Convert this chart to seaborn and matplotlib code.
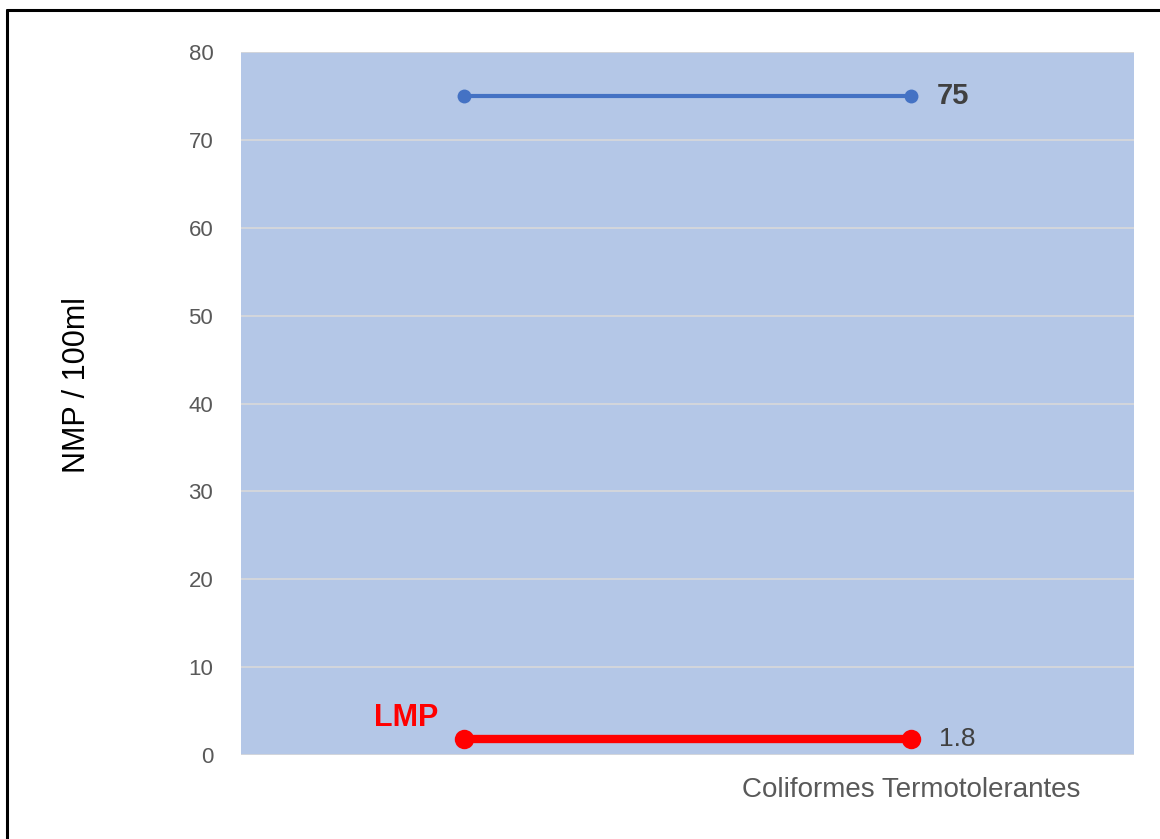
import pandas as pd
import numpy as np
import matplotlib
matplotlib.use("Agg")
import matplotlib.pyplot as plt
from matplotlib.lines import Line2D
import seaborn as sns

# =========================
# DATOS
# =========================
categorias = ["", "Coliformes Termotolerantes"]
resultado = [75, 75]
lmp = [1.8, 1.8]
y_ticks = [0, 10, 20, 30, 40, 50, 60, 70, 80]

df = pd.DataFrame({"Categoria": categorias, "Resultado": resultado, "LMP": lmp})

# =========================
# FIGURA
# =========================
sns.set_style("white")
plt.rcParams["font.family"] = ["Liberation Sans", "DejaVu Sans"]

fig = plt.figure(figsize=(11.6, 8.39), dpi=100)
ax = fig.add_axes([0.2078, 0.1001, 0.7698, 0.8379])
ax.set_facecolor("#B4C7E7")

sns.lineplot(data=df, x="Categoria", y="Resultado", ax=ax, color="#4472C4",
             linewidth=3, marker="o", markersize=10, markeredgewidth=0, sort=False)
sns.lineplot(data=df, x="Categoria", y="LMP", ax=ax, color="#FF0000",
             linewidth=6, marker="o", markersize=14, markeredgewidth=0, sort=False)

ax.set_xlim(-0.5, 1.5)
ax.set_ylim(0, 80)
ax.set_yticks(y_ticks)
ax.yaxis.grid(True, color="#D9D9D9", linewidth=1.2)
ax.set_axisbelow(True)
for s in ax.spines.values():
    s.set_visible(False)

ax.tick_params(axis="y", length=0, pad=20, labelsize=16, labelcolor="#595959")
ax.tick_params(axis="x", length=0, pad=16, labelsize=20, labelcolor="#595959")

ax.set_xlabel("")
ax.set_ylabel("")
fig.text(0.066, 0.541, "NMP / 100ml", rotation=90, ha="center", va="center",
         fontsize=22, color="black")

# etiquetas de datos
ax.annotate(f"{resultado[1]:g}", (1, resultado[1]), xytext=(19, 0), textcoords="offset points",
            ha="left", va="center", fontsize=21, fontweight="bold", color="#404040")
ax.annotate(f"{lmp[1]:g}", (1, lmp[1]), xytext=(20, 0), textcoords="offset points",
            ha="left", va="center", fontsize=19, color="#404040")
ax.annotate("LMP", (0, lmp[0]), xytext=(-42, 15), textcoords="offset points",
            ha="center", va="center", fontsize=22, fontweight="bold", color="#FF0000")

# marco
fig.add_artist(Line2D([0.006, 1.0], [0.988, 0.988], color="black", linewidth=2.2))
fig.add_artist(Line2D([0.006, 0.006], [0.0, 0.988], color="black", linewidth=2.2))

plt.savefig("out.png", dpi=100)
